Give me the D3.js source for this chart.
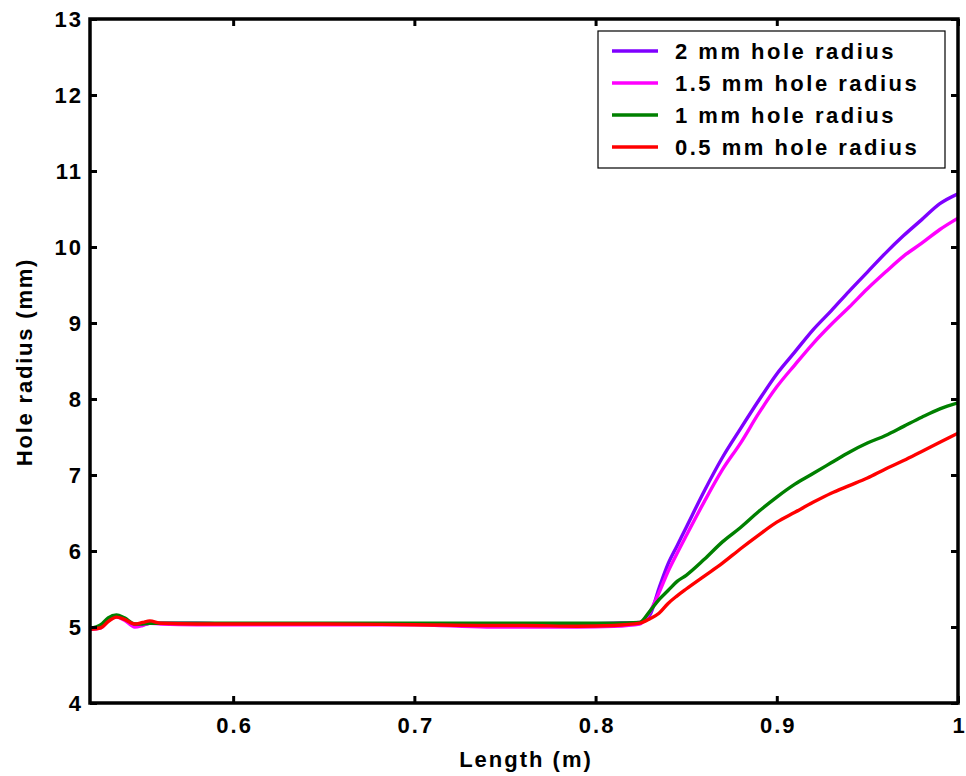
<!DOCTYPE html>
<html>
<head>
<meta charset="utf-8">
<script src="https://cdn.jsdelivr.net/npm/d3@7"></script>
<style>
  html, body { margin: 0; padding: 0; background: #fff; }
  svg { display: block; }
  text { font-family: Arial, "Liberation Sans", sans-serif; font-weight: bold; fill: #000; }
</style>
</head>
<body>
<svg id="chart" width="966" height="776"></svg>
<script>
// ---- Data ----
const lengths = [0.521, 0.527, 0.531, 0.5356, 0.540, 0.5457, 0.550, 0.554, 0.560, 0.58, 0.60, 0.65, 0.70, 0.74, 0.76, 0.79, 0.81,
  0.8243, 0.830, 0.835, 0.840, 0.845, 0.850, 0.860, 0.870, 0.880, 0.890, 0.900, 0.910, 0.920, 0.930, 0.940, 0.950, 0.960, 0.970, 0.980, 0.990, 1.000];

const radius2mm = [4.98, 5.01, 5.10, 5.14, 5.10, 5.02, 5.03, 5.05, 5.05, 5.05, 5.04, 5.04, 5.04, 5.04, 5.04, 5.04, 5.05,
  5.06, 5.16, 5.51, 5.83, 6.07, 6.31, 6.79, 7.23, 7.61, 7.98, 8.33, 8.62, 8.91, 9.16, 9.42, 9.67, 9.92, 10.15, 10.36, 10.57, 10.70];

const radius15mm = [4.97, 4.99, 5.08, 5.13, 5.09, 5.00, 5.02, 5.05, 5.04, 5.03, 5.03, 5.03, 5.03, 5.00, 5.00, 5.00, 5.01,
  5.04, 5.20, 5.45, 5.73, 5.97, 6.20, 6.65, 7.07, 7.42, 7.81, 8.16, 8.45, 8.73, 8.98, 9.21, 9.45, 9.67, 9.88, 10.05, 10.23, 10.38];

const radius1mm = [4.98, 5.03, 5.12, 5.16, 5.12, 5.04, 5.04, 5.05, 5.05, 5.05, 5.05, 5.05, 5.05, 5.05, 5.05, 5.05, 5.05,
  5.06, 5.21, 5.36, 5.48, 5.60, 5.68, 5.89, 6.12, 6.31, 6.52, 6.71, 6.88, 7.02, 7.16, 7.30, 7.42, 7.52, 7.64, 7.76, 7.87, 7.95];

const radius05mm = [4.97, 4.99, 5.07, 5.13, 5.10, 5.04, 5.06, 5.08, 5.05, 5.04, 5.04, 5.04, 5.03, 5.02, 5.02, 5.01, 5.02,
  5.05, 5.11, 5.18, 5.31, 5.41, 5.50, 5.67, 5.84, 6.03, 6.21, 6.38, 6.51, 6.64, 6.76, 6.86, 6.96, 7.08, 7.19, 7.31, 7.43, 7.55];

const seriesNames = ["2 mm hole radius", "1.5 mm hole radius", "1 mm hole radius", "0.5 mm hole radius"];
const seriesColors = ["#7f00ff", "#ff00ff", "#008000", "#ff0000"];
const seriesValues = [radius2mm, radius15mm, radius1mm, radius05mm];

const xTicks = [0.6, 0.7, 0.8, 0.9, 1];
const xTickLabels = ["0.6", "0.7", "0.8", "0.9", "1"];
const yTicks = [4, 5, 6, 7, 8, 9, 10, 11, 12, 13];

// ---- Layout ----
const L = 90, R = 958, T = 19, B = 703;
const svg = d3.select("#chart");
const x = d3.scaleLinear().domain([0.521, 1]).range([L, R]);
const y = d3.scaleLinear().domain([4, 13]).range([B, T]);

svg.append("clipPath").attr("id", "clip").append("rect")
  .attr("x", L).attr("y", T).attr("width", R - L).attr("height", B - T);

const line = d3.line().x((d, i) => x(lengths[i])).y(d => y(d)).curve(d3.curveMonotoneX);
const g = svg.append("g").attr("clip-path", "url(#clip)");
seriesValues.forEach((vals, k) => {
  g.append("path").datum(vals)
    .attr("fill", "none").attr("stroke", seriesColors[k]).attr("stroke-width", 3.4)
    .attr("stroke-linejoin", "round").attr("d", line);
});

// Axes with inward ticks on all sides
const fs = 22;
const ls = 2;
const axBottom = svg.append("g").attr("transform", `translate(0,${B})`)
  .call(d3.axisBottom(x).tickValues(xTicks).tickFormat((d, i) => xTickLabels[i]).tickSize(-7));
const axTop = svg.append("g").attr("transform", `translate(0,${T})`)
  .call(d3.axisTop(x).tickValues(xTicks).tickFormat("").tickSize(-7));
const axLeft = svg.append("g").attr("transform", `translate(${L},0)`)
  .call(d3.axisLeft(y).tickValues(yTicks).tickFormat(d3.format("d")).tickSize(-7));
const axRight = svg.append("g").attr("transform", `translate(${R},0)`)
  .call(d3.axisRight(y).tickValues(yTicks).tickFormat("").tickSize(-7));

[axBottom, axTop, axLeft, axRight].forEach(a => {
  a.select(".domain").remove();
  a.selectAll(".tick line").attr("stroke", "#000").attr("stroke-width", 3);
  a.selectAll("text").style("font-size", fs + "px").style("font-family", "Arial, 'Liberation Sans', sans-serif")
    .style("font-weight", "bold").style("letter-spacing", ls + "px").attr("fill", "#000");
});
axLeft.selectAll("text").attr("x", 83 - L).attr("dy", "0.36em");
axBottom.selectAll("text").attr("y", 30).attr("dy", "0").attr("dx", ls / 2);

// Frame
svg.append("rect").attr("x", L).attr("y", T).attr("width", R - L).attr("height", B - T)
  .attr("fill", "none").attr("stroke", "#000").attr("stroke-width", 3.5);

// Axis titles
svg.append("text").attr("x", 526).attr("y", 767).attr("text-anchor", "middle")
  .style("font-size", fs + "px").style("letter-spacing", ls + "px").text("Length (m)");
svg.append("text").attr("transform", "translate(32,362) rotate(-90)").attr("text-anchor", "middle")
  .style("font-size", fs + "px").style("letter-spacing", "1.8px").text("Hole radius (mm)");

// Legend
const lg = svg.append("g");
lg.append("rect").attr("x", 598).attr("y", 31).attr("width", 347).attr("height", 137)
  .attr("fill", "#fff").attr("stroke", "#000").attr("stroke-width", 1.2);
seriesNames.forEach((name, k) => {
  const yy = 51 + k * 32;
  lg.append("line").attr("x1", 612).attr("x2", 658).attr("y1", yy).attr("y2", yy)
    .attr("stroke", seriesColors[k]).attr("stroke-width", 3.4);
  lg.append("text").attr("x", 675).attr("y", yy).attr("dy", "0.36em")
    .style("font-size", fs + "px").style("letter-spacing", "2.5px").text(name);
});
</script>
</body>
</html>
